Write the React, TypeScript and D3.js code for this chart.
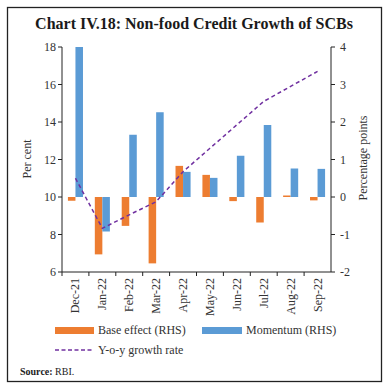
import React from "react";
import * as d3 from "d3";

const categories = ["Dec-21", "Jan-22", "Feb-22", "Mar-22", "Apr-22", "May-22", "Jun-22", "Jul-22", "Aug-22", "Sep-22"];
const baseEffect = [-0.1, -1.53, -0.77, -1.77, 0.83, 0.59, -0.11, -0.68, 0.04, -0.09];
const momentum = [4.0, -0.92, 1.66, 2.26, 0.67, 0.51, 1.1, 1.92, 0.76, 0.75];
const yoyGrowth = [11.0, 8.33, 9.05, 9.75, 11.35, 12.6, 13.85, 15.1, 15.9, 16.7];
const leftTicks = [6, 8, 10, 12, 14, 16, 18];
const rightTicks = [-2, -1, 0, 1, 2, 3, 4];

const W = 389;
const H = 390;
const margin = { left: 62, right: 331, top: 47, bottom: 272 };
const serif = "'Liberation Serif', 'DejaVu Serif', serif";
const orange = "#ED7D31";
const blue = "#5B9BD5";
const purple = "#7030A0";
const textCol = "#333";

export default function App() {
  const x = d3.scaleBand<string>().domain(categories).range([margin.left, margin.right]).padding(0);
  const bw = x.bandwidth();
  const sub = d3.scaleBand<string>().domain(["base", "mom"]).range([bw * 0.22, bw * 0.78]).padding(0);
  const yL = d3.scaleLinear().domain([6, 18]).range([margin.bottom, margin.top]);
  const yR = d3.scaleLinear().domain([-2, 4]).range([margin.bottom, margin.top]);
  const line = d3
    .line<number>()
    .x((_, i) => (x(categories[i]) as number) + bw / 2)
    .y((d) => yL(d));

  const bars = (vals: number[], key: string, color: string) =>
    vals.map((v, i) => {
      const x0 = (x(categories[i]) as number) + (sub(key) as number);
      const y0 = yR(Math.max(0, v));
      const h = Math.abs(yR(v) - yR(0));
      return <rect key={key + i} x={x0} y={y0} width={sub.bandwidth()} height={h} fill={color} />;
    });

  return (
    <svg width={W} height={H} style={{ position: "absolute", left: 0, top: 0 }}>
      <rect x={0} y={0} width={W} height={H} fill="#fff" />
      <rect x={7.5} y={7.5} width={374} height={374} fill="none" stroke="#222" strokeWidth={1.3} />
      <text x={194} y={29} textAnchor="middle" fontFamily={serif} fontWeight="bold" fontSize={16} fill="#1a1a1a">
        Chart IV.18: Non-food Credit Growth of SCBs
      </text>

      {bars(baseEffect, "base", orange)}
      {bars(momentum, "mom", blue)}

      <path d={line(yoyGrowth) as string} fill="none" stroke={purple} strokeWidth={1.5} strokeDasharray="4,3" />

      {/* left axis */}
      <line x1={margin.left} x2={margin.left} y1={margin.top} y2={margin.bottom} stroke="#222" />
      {leftTicks.map((t) => (
        <g key={"l" + t}>
          <line x1={margin.left - 4} x2={margin.left} y1={yL(t)} y2={yL(t)} stroke="#222" />
          <text x={margin.left - 6} y={yL(t)} dy="0.35em" textAnchor="end" fontFamily={serif} fontSize={12} fill={textCol}>
            {t}
          </text>
        </g>
      ))}
      {/* right axis */}
      <line x1={margin.right} x2={margin.right} y1={margin.top} y2={margin.bottom} stroke="#222" />
      {rightTicks.map((t) => (
        <g key={"r" + t}>
          <line x1={margin.right} x2={margin.right + 4} y1={yR(t)} y2={yR(t)} stroke="#222" />
          <text x={margin.right + 9} y={yR(t)} dy="0.35em" textAnchor="start" fontFamily={serif} fontSize={12} fill={textCol}>
            {t}
          </text>
        </g>
      ))}
      {/* x axis */}
      <line x1={margin.left} x2={margin.right} y1={margin.bottom} y2={margin.bottom} stroke="#222" />
      {categories.map((c, i) => (
        <line key={"xt" + i} x1={x(c) as number} x2={x(c) as number} y1={margin.bottom} y2={margin.bottom + 4} stroke="#222" />
      ))}
      {categories.map((c) => {
        const cx = (x(c) as number) + bw / 2;
        return (
          <text
            key={"xl" + c}
            transform={`translate(${cx + 4},${margin.bottom + 6}) rotate(-90)`}
            textAnchor="end"
            fontFamily={serif}
            fontSize={12}
            fill={textCol}
          >
            {c}
          </text>
        );
      })}

      <text transform={`translate(31,159) rotate(-90)`} textAnchor="middle" fontFamily={serif} fontSize={12} fill={textCol}>
        Per cent
      </text>
      <text transform={`translate(367,158) rotate(-90)`} textAnchor="middle" fontFamily={serif} fontSize={12} fill={textCol}>
        Percentage points
      </text>

      {/* legend */}
      <rect x={55} y={327} width={39} height={7} fill={orange} />
      <text x={98} y={334} fontFamily={serif} fontSize={12} fill={textCol}>Base effect (RHS)</text>
      <rect x={202} y={327} width={40} height={7} fill={blue} />
      <text x={246} y={334} fontFamily={serif} fontSize={12} fill={textCol}>Momentum (RHS)</text>
      <line x1={55} x2={94} y1={350} y2={350} stroke={purple} strokeWidth={1.5} strokeDasharray="4,2.5" />
      <text x={98} y={354} fontFamily={serif} fontSize={12} fill={textCol}>Y-o-y growth rate</text>

      <text x={20} y={375} fontFamily={serif} fontSize={10} fill="#222">
        <tspan fontWeight="bold">Source:</tspan> RBI.
      </text>
    </svg>
  );
}
